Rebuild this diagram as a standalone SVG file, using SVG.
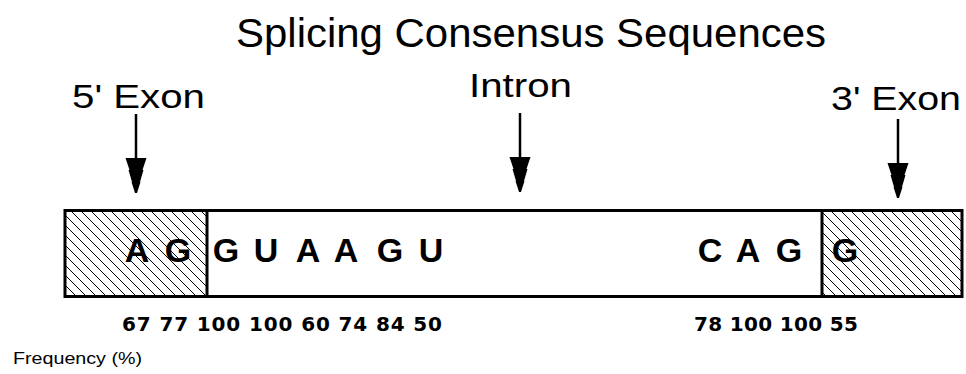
<svg xmlns="http://www.w3.org/2000/svg" xmlns:xlink="http://www.w3.org/1999/xlink" width="966" height="374" viewBox="0 0 966 374">
  <style>
    .title { font-family: "Liberation Sans", Arial, sans-serif; font-size: 40px; fill: #000; }
    .label { font-family: "Liberation Sans", Arial, sans-serif; font-size: 34px; fill: #000; }
    .base { font-family: "Liberation Sans", Arial, sans-serif; font-size: 34px; font-weight: bold; fill: #000; text-anchor: middle; }
    .freq { font-family: "DejaVu Sans", Verdana, sans-serif; font-size: 20px; font-weight: bold; fill: #000; }
    .note { font-family: "Liberation Sans", Arial, sans-serif; font-size: 16px; fill: #000; }
    .shaft { stroke: #000; stroke-width: 2.5; fill: none; }
    .frame { stroke: #000; stroke-width: 3; }
  </style>
  <defs>
    <!-- diagonal hatching for exon segments -->
    <pattern id="hatch" patternUnits="userSpaceOnUse" width="10" height="10">
      <path d="M0,0 L10,10 M-2,8 L2,12 M8,-2 L12,2" stroke="#000" stroke-width="1" fill="none"/>
    </pattern>
    <!-- stepped arrowhead, tip at (0,35) -->
    <polygon id="head" points="-10.5,0 10.5,0 6.5,12 7.5,12 4,24 4.5,24 1,35 -1,35 -4.5,24 -4,24 -7.5,12 -6.5,12" fill="#000"/>
  </defs>

  <rect width="966" height="374" fill="#fff"/>

  <g id="title">
    <text class="title" x="236" y="47" textLength="590" lengthAdjust="spacingAndGlyphs">Splicing Consensus Sequences</text>
  </g>

  <g id="exon5-label">
    <text class="label" x="72" y="108" textLength="133" lengthAdjust="spacingAndGlyphs">5' Exon</text>
  </g>
  <g id="intron-label">
    <text class="label" x="469" y="97" textLength="103" lengthAdjust="spacingAndGlyphs">Intron</text>
  </g>
  <g id="exon3-label">
    <text class="label" x="831" y="110" textLength="130" lengthAdjust="spacingAndGlyphs">3' Exon</text>
  </g>

  <g id="connectors">
    <line class="shaft" x1="136" y1="114" x2="136" y2="160"/>
    <use xlink:href="#head" x="136" y="158"/>
    <line class="shaft" x1="520" y1="113" x2="520" y2="159"/>
    <use xlink:href="#head" x="520" y="157"/>
    <line class="shaft" x1="898" y1="119" x2="898" y2="165"/>
    <use xlink:href="#head" x="898" y="163"/>
  </g>

  <g id="sequence-bar">
    <rect x="65" y="210" width="142" height="87" fill="url(#hatch)"/>
    <rect x="822" y="210" width="141" height="87" fill="url(#hatch)"/>
    <rect class="frame" x="65" y="210.5" width="897" height="86" fill="none"/>
    <line class="frame" x1="207" y1="210" x2="207" y2="297"/>
    <line class="frame" x1="822" y1="210" x2="822" y2="297"/>
  </g>

  <g id="exon5-bases">
    <text class="base" x="137" y="262">A</text>
    <text class="base" x="178" y="262">G</text>
  </g>
  <g id="intron5-bases">
    <text class="base" x="226" y="262">G</text>
    <text class="base" x="266" y="262">U</text>
    <text class="base" x="308" y="262">A</text>
    <text class="base" x="346" y="262">A</text>
    <text class="base" x="390" y="262">G</text>
    <text class="base" x="431" y="262">U</text>
  </g>
  <g id="intron3-bases">
    <text class="base" x="710" y="262">C</text>
    <text class="base" x="748" y="262">A</text>
    <text class="base" x="789" y="262">G</text>
  </g>
  <g id="exon3-bases">
    <text class="base" x="845" y="262">G</text>
  </g>

  <g id="frequencies">
    <text class="freq" x="122" y="331" textLength="320">67 77 100 100 60 74 84 50</text>
    <text class="freq" x="694" y="331" textLength="164">78 100 100 55</text>
  </g>

  <g id="frequency-label">
    <text class="note" x="13" y="364" textLength="129" lengthAdjust="spacingAndGlyphs">Frequency (%)</text>
  </g>
</svg>
